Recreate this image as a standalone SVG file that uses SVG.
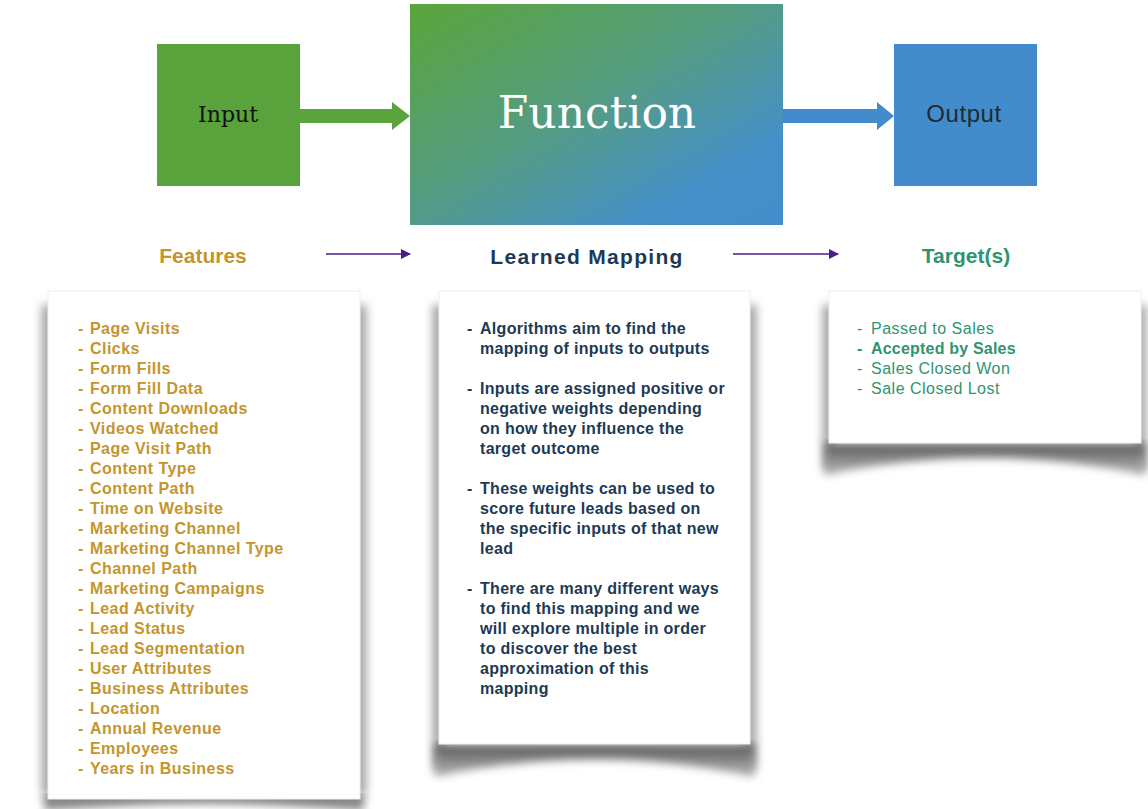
<svg xmlns="http://www.w3.org/2000/svg" width="1148" height="809" viewBox="0 0 1148 809">
  <defs>
    <linearGradient id="fnGrad" x1="0" y1="0" x2="1" y2="1">
      <stop offset="0" stop-color="#5aa53a"/>
      <stop offset="0.45" stop-color="#559c80"/>
      <stop offset="0.8" stop-color="#4590c8"/>
      <stop offset="1" stop-color="#448dcc"/>
    </linearGradient>
    <linearGradient id="shadeGrad" x1="0" y1="0" x2="0" y2="1">
      <stop offset="0" stop-color="#555"/>
      <stop offset="1" stop-color="#bbb"/>
    </linearGradient>
    <filter id="soft" x="-10%" y="-10%" width="120%" height="130%">
      <feGaussianBlur stdDeviation="4"/>
    </filter>
    <filter id="softSide" x="-10%" y="-10%" width="120%" height="120%">
      <feGaussianBlur stdDeviation="5"/>
    </filter>
    <marker id="thin" viewBox="0 0 10 10" refX="9" refY="5" markerWidth="12" markerHeight="10" markerUnits="userSpaceOnUse" orient="auto">
      <path d="M0,0 L10,5 L0,10 Z" fill="#4b1d8a"/>
    </marker>
    <style>
      .hdr { font-family: "Liberation Sans", Arial, sans-serif; font-weight: bold; font-size: 21px; text-anchor: middle; }
      .feat { font-family: "Liberation Sans", Arial, sans-serif; font-weight: bold; font-size: 16px; letter-spacing: 0.45px; fill: #c4952c; }
      .map { font-family: "Liberation Sans", Arial, sans-serif; font-weight: bold; font-size: 16px; letter-spacing: 0.3px; fill: #1c3a56; }
      .tgt { font-family: "Liberation Sans", Arial, sans-serif; font-size: 16px; letter-spacing: 0.5px; fill: #2f9470; }
      .card { fill: #ffffff; stroke: #eeeeee; stroke-width: 1; }
      .side { fill: #9a9a9a; }
    </style>
  </defs>

  <rect width="1148" height="809" fill="#ffffff"/>

  <!-- top row: input, function, output -->
  <g id="input">
    <rect x="157" y="44" width="143" height="142" fill="#5aa33c"/>
    <text x="228" y="122" font-family="'DejaVu Serif', serif" font-size="22" fill="#111" text-anchor="middle">Input</text>
  </g>
  <g id="function">
    <rect x="410" y="4" width="373" height="221" fill="url(#fnGrad)"/>
    <text x="597" y="128" font-family="'DejaVu Serif', serif" font-size="44" fill="#ffffff" text-anchor="middle">Function</text>
  </g>
  <g id="output">
    <rect x="894" y="44" width="143" height="142" fill="#438ccb"/>
    <text x="964" y="122" font-family="'Liberation Sans', Arial, sans-serif" font-size="24" fill="#1f2a33" text-anchor="middle" letter-spacing="0.6">Output</text>
  </g>

  <!-- connectors -->
  <g id="connectors">
    <path d="M300,109 L392,109 L392,102 L410,116 L392,130 L392,123 L300,123 Z" fill="#5aa33c"/>
    <path d="M783,109 L877,109 L877,102 L894,116 L877,130 L877,123 L783,123 Z" fill="#438ccb"/>
    <line x1="326" y1="254" x2="410" y2="254" stroke="#4b1d8a" stroke-width="1.5" marker-end="url(#thin)"/>
    <line x1="733" y1="254" x2="838" y2="254" stroke="#4b1d8a" stroke-width="1.5" marker-end="url(#thin)"/>
  </g>

  <!-- column headings -->
  <g id="features-label"><text class="hdr" x="203" y="263" fill="#c4952c">Features</text></g>
  <g id="mapping-label"><text class="hdr" x="587" y="264" fill="#1c3a56" font-size="25" letter-spacing="1.3">Learned Mapping</text></g>
  <g id="targets-label"><text class="hdr" x="966" y="263" fill="#2f9470">Target(s)</text></g>

  <!-- features card -->
  <g id="features-card">
    <g filter="url(#softSide)">
      <rect class="side" x="42" y="305" width="10" height="490"/>
      <rect class="side" x="356" y="305" width="10" height="490"/>
    </g>
    <path d="M44,795 L364,795 L364,812 Q204,795 44,812 Z" fill="url(#shadeGrad)" filter="url(#soft)"/>
    <rect class="card" x="48" y="291" width="312" height="508"/>
    <g class="feat">
      <text x="78" y="334">-</text><text x="90" y="334">Page Visits</text>
      <text x="78" y="354">-</text><text x="90" y="354">Clicks</text>
      <text x="78" y="374">-</text><text x="90" y="374">Form Fills</text>
      <text x="78" y="394">-</text><text x="90" y="394">Form Fill Data</text>
      <text x="78" y="414">-</text><text x="90" y="414">Content Downloads</text>
      <text x="78" y="434">-</text><text x="90" y="434">Videos Watched</text>
      <text x="78" y="454">-</text><text x="90" y="454">Page Visit Path</text>
      <text x="78" y="474">-</text><text x="90" y="474">Content Type</text>
      <text x="78" y="494">-</text><text x="90" y="494">Content Path</text>
      <text x="78" y="514">-</text><text x="90" y="514">Time on Website</text>
      <text x="78" y="534">-</text><text x="90" y="534">Marketing Channel</text>
      <text x="78" y="554">-</text><text x="90" y="554">Marketing Channel Type</text>
      <text x="78" y="574">-</text><text x="90" y="574">Channel Path</text>
      <text x="78" y="594">-</text><text x="90" y="594">Marketing Campaigns</text>
      <text x="78" y="614">-</text><text x="90" y="614">Lead Activity</text>
      <text x="78" y="634">-</text><text x="90" y="634">Lead Status</text>
      <text x="78" y="654">-</text><text x="90" y="654">Lead Segmentation</text>
      <text x="78" y="674">-</text><text x="90" y="674">User Attributes</text>
      <text x="78" y="694">-</text><text x="90" y="694">Business Attributes</text>
      <text x="78" y="714">-</text><text x="90" y="714">Location</text>
      <text x="78" y="734">-</text><text x="90" y="734">Annual Revenue</text>
      <text x="78" y="754">-</text><text x="90" y="754">Employees</text>
      <text x="78" y="774">-</text><text x="90" y="774">Years in Business</text>
    </g>
  </g>

  <!-- learned mapping card -->
  <g id="mapping-card">
    <g filter="url(#softSide)">
      <rect class="side" x="433" y="305" width="10" height="465"/>
      <rect class="side" x="746" y="305" width="10" height="465"/>
    </g>
    <path d="M435,744 L754,744 L754,777 Q594,742 435,777 Z" fill="url(#shadeGrad)" filter="url(#soft)"/>
    <rect class="card" x="439" y="291" width="311" height="453"/>
    <g class="map">
      <text x="467" y="334">-</text><text x="480" y="334">Algorithms aim to find the</text>
      <text x="480" y="354">mapping of inputs to outputs</text>
      <text x="467" y="394">-</text><text x="480" y="394">Inputs are assigned positive or</text>
      <text x="480" y="414">negative weights depending</text>
      <text x="480" y="434">on how they influence the</text>
      <text x="480" y="454">target outcome</text>
      <text x="467" y="494">-</text><text x="480" y="494">These weights can be used to</text>
      <text x="480" y="514">score future leads based on</text>
      <text x="480" y="534">the specific inputs of that new</text>
      <text x="480" y="554">lead</text>
      <text x="467" y="594">-</text><text x="480" y="594">There are many different ways</text>
      <text x="480" y="614">to find this mapping and we</text>
      <text x="480" y="634">will explore multiple in order</text>
      <text x="480" y="654">to discover the best</text>
      <text x="480" y="674">approximation of this</text>
      <text x="480" y="694">mapping</text>
    </g>
  </g>

  <!-- targets card -->
  <g id="targets-card">
    <g filter="url(#softSide)">
      <rect class="side" x="823" y="305" width="10" height="165"/>
      <rect class="side" x="1137" y="305" width="9" height="165"/>
    </g>
    <path d="M825,443 L1145,443 L1145,475 Q985,441 825,475 Z" fill="url(#shadeGrad)" filter="url(#soft)"/>
    <rect class="card" x="829" y="291" width="312" height="152"/>
    <g class="tgt">
      <text x="857" y="334">-</text><text x="871" y="334">Passed to Sales</text>
      <text x="857" y="354" font-weight="bold">-</text><text x="871" y="354" font-weight="bold" letter-spacing="0.2">Accepted by Sales</text>
      <text x="857" y="374">-</text><text x="871" y="374">Sales Closed Won</text>
      <text x="857" y="394">-</text><text x="871" y="394">Sale Closed Lost</text>
    </g>
  </g>
</svg>
